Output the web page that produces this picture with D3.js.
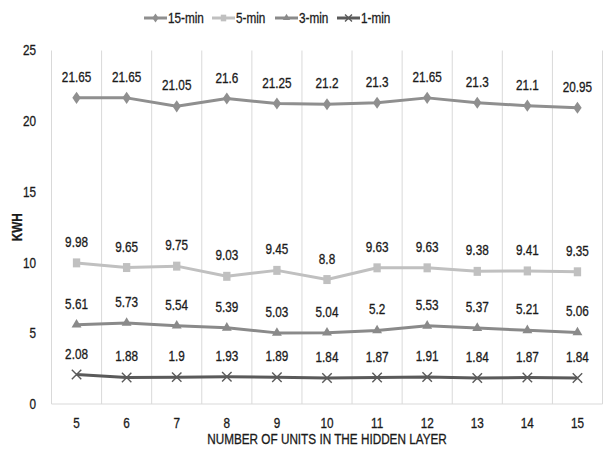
<!DOCTYPE html>
<html>
<head>
<meta charset="utf-8">
<script src="https://cdn.jsdelivr.net/npm/d3@7"></script>
<style>
  html, body { margin: 0; padding: 0; background: #fff; }
  svg { display: block; }
  text { font-family: "Liberation Sans", Arial, sans-serif; stroke: #1a1a1a; stroke-width: 0.3px; }
</style>
</head>
<body>
<svg id="chart" width="604" height="450"></svg>
<script>
// Hidden-layer sizes on the x axis
const units = ["5", "6", "7", "8", "9", "10", "11", "12", "13", "14", "15"];

// Energy (KWH) per forecasting horizon
const min15 = [21.65, 21.65, 21.05, 21.6, 21.25, 21.2, 21.3, 21.65, 21.3, 21.1, 20.95];
const min5  = [9.98, 9.65, 9.75, 9.03, 9.45, 8.8, 9.63, 9.63, 9.38, 9.41, 9.35];
const min3  = [5.61, 5.73, 5.54, 5.39, 5.03, 5.04, 5.2, 5.53, 5.37, 5.21, 5.06];
const min1  = [2.08, 1.88, 1.9, 1.93, 1.89, 1.84, 1.87, 1.91, 1.84, 1.87, 1.84];

const yTicks = [0, 5, 10, 15, 20, 25];

const series = [
  { name: "15-min", values: min15, color: "#8f8f8f", symbol: d3.symbolDiamond2, size: 70, sx: 0.8, sy: 1.15, stroke: false },
  { name: "5-min",  values: min5,  color: "#c0c0c0", symbol: d3.symbolSquare2,  size: 85, sx: 0.9, sy: 1.1, stroke: false },
  { name: "3-min",  values: min3,  color: "#8a8a8a", symbol: d3.symbolTriangle2, size: 70, sx: 1, sy: 1, stroke: false },
  { name: "1-min",  values: min1,  color: "#5a5a5a", symbol: d3.symbolX, size: 60, sx: 1, sy: 1, stroke: true }
];

// Condensed lettering: horizontal squeeze of the sans face
const NARROW = 0.84;
const INK = "#1a1a1a";

const svg = d3.select("#chart");
const margin = { left: 51.5, right: 1.5, top: 50.5, bottom: 46 };
const W = 604, H = 450;

const x = d3.scaleBand().domain(units).range([margin.left, W - margin.right]).paddingInner(0).paddingOuter(0);
const y = d3.scaleLinear().domain([0, 25]).range([H - margin.bottom, margin.top]);

function narrowText(sel, px, py) {
  return sel.attr("x", 0).attr("y", 0)
    .attr("transform", `translate(${px},${py}) scale(${NARROW},1)`);
}

// Vertical category separators
const bounds = units.map(u => x(u)).concat([x(units[units.length - 1]) + x.bandwidth()]);
svg.append("g").selectAll("line").data(bounds).join("line")
  .attr("x1", d => d).attr("x2", d => d)
  .attr("y1", y(25)).attr("y2", y(0))
  .attr("stroke", "#d9d9d9").attr("stroke-width", 1);

// Baseline
svg.append("line")
  .attr("x1", x.range()[0]).attr("x2", x.range()[1])
  .attr("y1", y(0)).attr("y2", y(0))
  .attr("stroke", "#d9d9d9").attr("stroke-width", 1);

// Y axis labels
const yAxis = d3.axisLeft(y).tickValues(yTicks).tickSize(0).tickPadding(0);
const gy = svg.append("g").attr("transform", `translate(${margin.left},0)`).call(yAxis);
gy.select(".domain").remove();
gy.selectAll(".tick text").each(function () {
  d3.select(this).attr("dy", "0.32em");
  narrowText(d3.select(this), -15.5, 0);
}).attr("font-size", 14).attr("fill", INK);

// X axis labels
const xAxis = d3.axisBottom(x).tickSize(0).tickPadding(0);
const gx = svg.append("g").attr("transform", `translate(0,${y(0)})`).call(xAxis);
gx.select(".domain").remove();
gx.selectAll(".tick text").each(function () {
  d3.select(this).attr("dy", "0");
  narrowText(d3.select(this), 0, 23.5);
}).attr("font-size", 14).attr("fill", INK);

// Axis titles
narrowText(svg.append("text"), (x.range()[0] + x.range()[1]) / 2, 444)
  .attr("text-anchor", "middle").attr("font-size", 14).attr("fill", INK)
  .text("NUMBER OF UNITS IN THE HIDDEN LAYER");

svg.append("text")
  .attr("transform", `translate(22,${(y(0) + y(25)) / 2}) rotate(-90) scale(${NARROW},1)`)
  .attr("text-anchor", "middle").attr("font-size", 14).attr("font-weight", "bold").attr("fill", INK)
  .text("KWH");

const cx = u => x(u) + x.bandwidth() / 2;
const line = d3.line().x((d, i) => cx(units[i])).y(d => y(d));

function drawMarker(g, s, px, py) {
  const path = d3.symbol().type(s.symbol).size(s.size)();
  const m = g.append("path").attr("d", path)
    .attr("transform", `translate(${px},${py}) scale(${s.sx},${s.sy})`);
  if (s.stroke) {
    m.attr("fill", "none").attr("stroke", s.color).attr("stroke-width", 1.4);
  } else {
    m.attr("fill", s.color);
  }
}

series.forEach(s => {
  const g = svg.append("g");
  g.append("path").datum(s.values)
    .attr("d", line).attr("fill", "none")
    .attr("stroke", s.color).attr("stroke-width", 3).attr("stroke-linejoin", "round");
  s.values.forEach((v, i) => drawMarker(g, s, cx(units[i]), y(v)));
  s.values.forEach((v, i) => {
    narrowText(g.append("text"), cx(units[i]), y(v) - 16)
      .attr("text-anchor", "middle").attr("font-size", 14).attr("fill", INK)
      .text(v);
  });
});

// Legend
const legendItems = [
  { s: series[0], lx: 144 },
  { s: series[1], lx: 212 },
  { s: series[2], lx: 275 },
  { s: series[3], lx: 337 }
];
const lg = svg.append("g");
legendItems.forEach(({ s, lx }) => {
  const ly = 18;
  lg.append("line").attr("x1", lx).attr("x2", lx + 23).attr("y1", ly).attr("y2", ly)
    .attr("stroke", s.color).attr("stroke-width", 3);
  const small = Object.assign({}, s, { size: s.size * 0.55 });
  drawMarker(lg, small, lx + 11.5, ly);
  narrowText(lg.append("text"), lx + 24, ly + 5)
    .attr("font-size", 14).attr("fill", INK).text(s.name);
});
</script>
</body>
</html>
